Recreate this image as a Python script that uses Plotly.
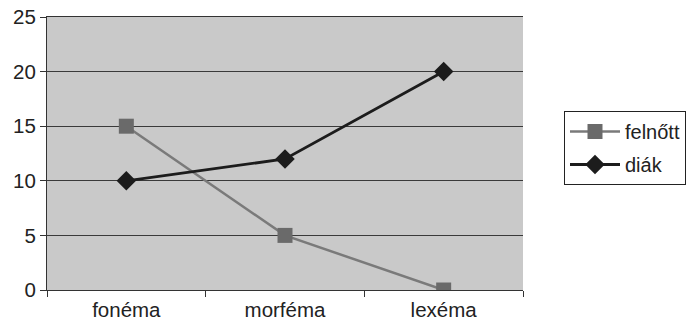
import plotly.graph_objects as go

categories = ["fonéma", "morféma", "lexéma"]
felnott = [15, 5, 0]
diak = [10, 12, 20]
y_ticks = [0, 5, 10, 15, 20, 25]

fig = go.Figure()
fig.add_trace(go.Scatter(
    x=categories, y=felnott, name="felnőtt", mode="lines+markers",
    legendgroup="a",
    line=dict(color="#7a7a7a", width=2.5),
    marker=dict(symbol="square", size=15, color="#6a6a6a", line=dict(width=0)),
))
fig.add_trace(go.Scatter(
    x=categories, y=diak, name="diák", mode="lines+markers",
    legendgroup="b",
    line=dict(color="#1c1c1c", width=2.8),
    marker=dict(symbol="diamond", size=15, color="#1c1c1c", line=dict(width=0)),
))

fig.update_layout(
    width=690, height=327,
    margin=dict(l=47, r=167, t=17, b=37),
    paper_bgcolor="white",
    plot_bgcolor="#c9c9c9",
    font=dict(family="Liberation Sans, Arial, sans-serif", size=20.5, color="#222222"),
    showlegend=True,
    legend=dict(
        xref="container", yref="container",
        x=564 / 690, y=1 - 111 / 327, xanchor="left", yanchor="top",
        bordercolor="#222222", borderwidth=1, bgcolor="white",
        font=dict(size=20, color="#222222"),
        tracegroupgap=4, itemsizing="trace", itemwidth=50,
    ),
)
fig.update_xaxes(
    type="category", range=[-0.5, 2.5], automargin=False,
    showgrid=False, showline=True, linecolor="#333333", linewidth=1, mirror=True,
    ticks="outside", tickson="boundaries", ticklen=6, tickcolor="#333333",
    tickfont=dict(size=20.5), ticklabelstandoff=1,
)
fig.update_yaxes(
    range=[0, 25], tickvals=y_ticks, automargin=False,
    showgrid=True, gridcolor="#3a3a3a", gridwidth=1,
    showline=True, linecolor="#333333", linewidth=1,
    ticks="outside", ticklen=6, tickcolor="#333333",
    tickfont=dict(size=20.5), zeroline=False,
)

fig.write_html(
    "out.html",
    config={"displayModeBar": False},
    post_script="document.body.style.margin='0';",
)
